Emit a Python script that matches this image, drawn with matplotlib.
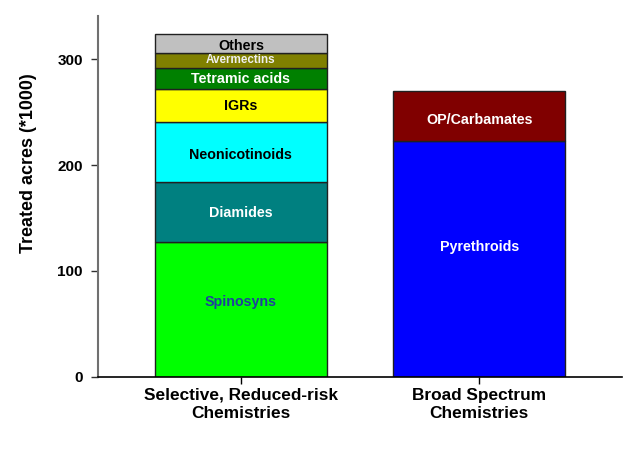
import matplotlib
matplotlib.use("Agg")
import matplotlib.pyplot as plt

plt.rcParams['font.family'] = ['Liberation Sans', 'DejaVu Sans']

categories = ["Selective, Reduced-risk\nChemistries", "Broad Spectrum\nChemistries"]

selective_labels = ["Spinosyns", "Diamides", "Neonicotinoids", "IGRs", "Tetramic acids", "Avermectins", "Others"]
selective_values = [127, 57, 57, 31, 20, 14, 18]
selective_colors = ["#00ff00", "#008080", "#00ffff", "#ffff00", "#008000", "#808000", "#c0c0c0"]
selective_text = ["#1f3f9f", "white", "black", "black", "white", "#f0f0f0", "black"]
selective_fs = [10.3, 10.3, 10.3, 10.3, 10.3, 8.4, 10.3]
# label heights (data units) inside the bar
selective_label_y = [71, 155, 210, 256, 281, 299, 313]

broad_labels = ["Pyrethroids", "OP/Carbamates"]
broad_values = [223, 47]
broad_colors = ["#0000ff", "#800000"]
broad_text = ["white", "white"]
broad_fs = [10.3, 10.3]
broad_label_y = [123, 243]

yticks = [0, 100, 200, 300]

fig = plt.figure(figsize=(6.38, 4.53), dpi=100)
ax = fig.add_axes([0.1536, 0.1684, 0.8214, 0.7963])

width = 0.72
for xi, (labs, vals, cols, tcols, fss, lys) in enumerate([
        (selective_labels, selective_values, selective_colors, selective_text, selective_fs, selective_label_y),
        (broad_labels, broad_values, broad_colors, broad_text, broad_fs, broad_label_y)]):
    bottom = 0
    for lab, v, c, tc, fs, ly in zip(labs, vals, cols, tcols, fss, lys):
        ax.bar(xi, v, width=width, bottom=bottom, color=c, edgecolor="#202020", linewidth=1.0)
        ax.text(xi, ly, lab, ha="center", va="center", color=tc,
                fontsize=fs, fontweight="bold")
        bottom += v

ax.set_xlim(-0.6, 1.6)
ax.set_ylim(0, 341)
ax.set_xticks([0, 1])
ax.set_xticklabels(categories, fontsize=12.4, fontweight="bold", linespacing=1.3)
ax.set_yticks(yticks)
ax.set_yticklabels([str(t) for t in yticks], fontsize=11, fontweight="bold")
ax.set_ylabel("Treated acres (*1000)", fontsize=12.9, fontweight="bold")
ax.yaxis.set_label_coords(-0.1164, 0.593)

ax.spines['top'].set_visible(False)
ax.spines['right'].set_visible(False)
ax.spines['left'].set_color("#707070")
ax.spines['left'].set_linewidth(1.5)
ax.spines['bottom'].set_color("black")
ax.spines['bottom'].set_linewidth(1.2)
ax.tick_params(axis='y', direction='out', length=5, width=1, color="#303030", pad=6)
ax.tick_params(axis='x', direction='out', length=5, width=1, color="black", pad=3)

fig.savefig("out.png", dpi=100)
